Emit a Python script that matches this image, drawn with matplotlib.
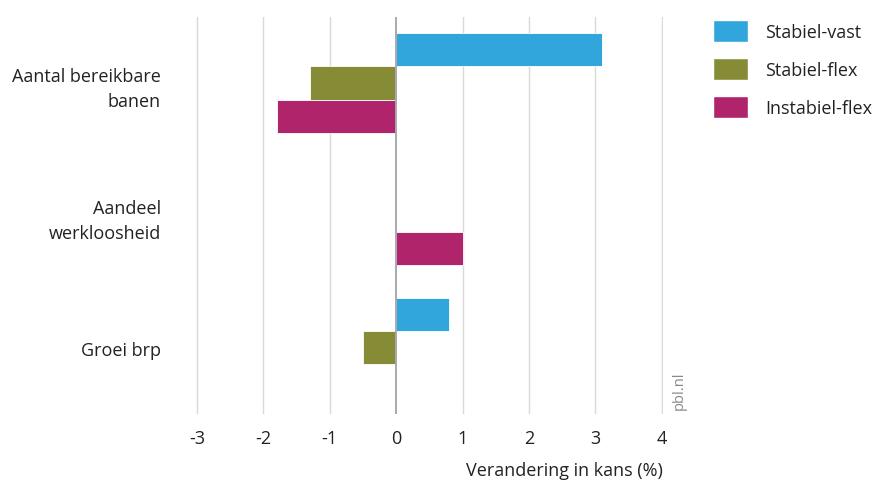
import numpy as np
import matplotlib.pyplot as plt
from matplotlib.patches import Patch

plt.rcParams['font.family'] = ['Open Sans', 'DejaVu Sans']

categories = ['Aantal bereikbare\nbanen', 'Aandeel\nwerkloosheid', 'Groei brp']
series = ['Stabiel-vast', 'Stabiel-flex', 'Instabiel-flex']
stabiel_vast = [3.1, 0.0, 0.8]
stabiel_flex = [-1.3, 0.0, -0.5]
instabiel_flex = [-1.8, 1.0, 0.0]
colors = ['#31a6dc', '#868c36', '#b0246c']
xticks = [-3, -2, -1, 0, 1, 2, 3, 4]

fig = plt.figure(figsize=(8.79, 4.81), dpi=100)
ax = fig.add_axes([0.2225, 0.137, 0.532, 0.826])

y = np.arange(len(categories))
h = 0.25
for i, (vals, c) in enumerate(zip([stabiel_vast, stabiel_flex, instabiel_flex], colors)):
    ax.barh(y + (i - 1) * h, vals, height=h, color=c, edgecolor='white', linewidth=0.6, zorder=3)

# grid lines
for t in xticks:
    if t == 0:
        ax.axvline(t, color='#a8a8b0', linewidth=1.4, zorder=4)
    else:
        ax.axvline(t, color='#d9d9d9', linewidth=1.0, zorder=1)

ax.set_xlim(-3.02, 4.02)
ax.set_ylim(len(categories) - 0.5, -0.5)
ax.set_xticks(xticks)
ax.set_xticklabels([str(t) for t in xticks], fontsize=13, color='#222222')
ax.set_yticks(y)
ax.set_yticklabels(categories, fontsize=13, color='#222222', ha='right', linespacing=1.5)
ax.tick_params(axis='both', length=0)
ax.tick_params(axis='x', pad=11)
ax.tick_params(axis='y', pad=25)
for s in ax.spines.values():
    s.set_visible(False)

ax.set_xlabel('Verandering in kans (%)', fontsize=13, color='#222222')
ax.xaxis.set_label_coords(1.0, -0.118)
ax.xaxis.label.set_ha('right')

fig.text(0.764, 0.148, 'pbl.nl', rotation=90, fontsize=10.5, color='#888888', ha='left', va='bottom')

handles = [Patch(facecolor=c, edgecolor='white') for c in colors]
fig.legend(handles, series, loc='upper left', bbox_to_anchor=(0.793, 0.99), frameon=False,
           fontsize=13, handlelength=1.9, handleheight=1.5, handletextpad=0.95, labelspacing=0.87,
           labelcolor='#222222')

fig.savefig('out.png', dpi=100)
